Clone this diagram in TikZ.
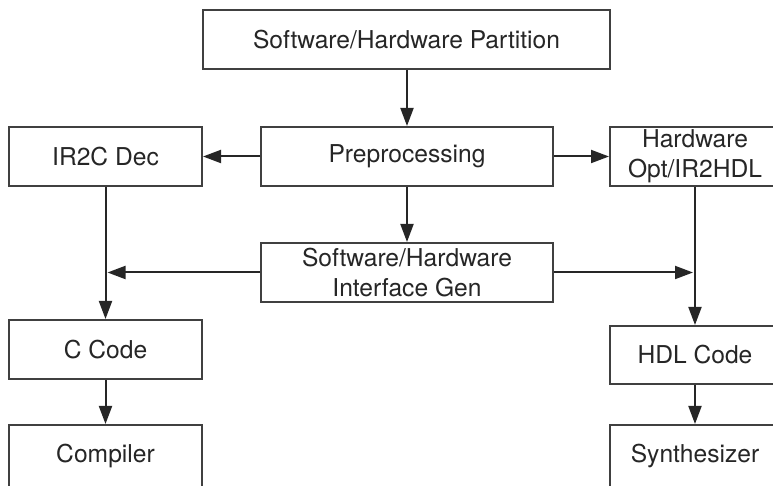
\documentclass[tikz,border=0pt]{standalone}
\usepackage{fontspec}
\setmainfont{TeX Gyre Heros}
\usetikzlibrary{arrows.meta}
\begin{document}
\begin{tikzpicture}[x=0.5pt,y=-0.5pt,
  box/.style={draw=black!75, line width=1pt, fill=white, inner sep=0pt, align=center,
    text=black!85, font=\fontsize{12.3}{14.8}\selectfont, minimum height=29.5pt},
  link/.style={draw=black!85, line width=1pt, -{Triangle[length=9pt,width=6.5pt]}}]
\useasboundingbox (0,0) rectangle (773,486);
\clip (0,0) rectangle (773,486);
\node[box, minimum width=203.5pt] (top) at (406.5,39.5) {Software/Hardware Partition};
\node[box, minimum width=146pt] (pre) at (407,156.5) {Preprocessing};
\node[box, minimum width=96.5pt] (ir2c) at (105.5,156.5) {IR2C Dec};
\node[box, minimum width=85pt] (hw) at (695,156.5) {Hardware\\Opt/IR2HDL};
\node[box, minimum width=146pt] (iface) at (407,272.5) {Software/Hardware\\Interface Gen};
\node[box, minimum width=96.5pt] (ccode) at (105.5,349.5) {C Code};
\node[box, minimum width=85pt, minimum height=29pt] (hdl) at (695,355) {HDL Code};
\node[box, minimum width=96.5pt, minimum height=31pt] (comp) at (105.5,456) {Compiler};
\node[box, minimum width=85pt, minimum height=31pt] (synth) at (695,456) {Synthesizer};
\coordinate (lj) at (ir2c.south |- iface.west);
\coordinate (rj) at (hw.south |- iface.east);
\draw[link] (top.south -| pre.north) -- (pre.north);
\draw[link] (pre.west) -- (ir2c.east);
\draw[link] (pre.east) -- (hw.west);
\draw[link] (pre.south) -- (iface.north);
\draw[link] (ir2c.south) -- (ccode.north);
\draw[link] (hw.south) -- (hdl.north);
\draw[link, shorten >=1pt] (iface.west) -- (lj);
\draw[link, shorten >=1pt] (iface.east) -- (rj);
\draw[link] (ccode.south) -- (comp.north);
\draw[link] (hdl.south) -- (synth.north);
\end{tikzpicture}
\end{document}
